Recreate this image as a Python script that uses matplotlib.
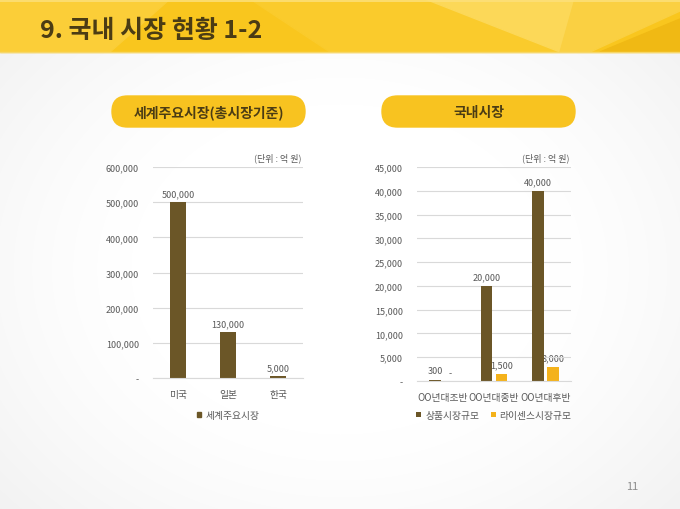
import matplotlib.pyplot as plt
import numpy as np
from matplotlib.patches import FancyBboxPatch, Rectangle, Polygon

plt.rcParams['font.family'] = ['Noto Sans CJK KR', 'DejaVu Sans']

# data
world_cats = ['미국', '일본', '한국']
world_vals = [500000, 130000, 5000]
world_labels = ['500,000', '130,000', '5,000']

dom_cats = ['OO년대조반', 'OO년대중반', 'OO년대후반']
goods_vals = [300, 20000, 40000]
goods_labels = ['300', '20,000', '40,000']
license_vals = [0, 1500, 3000]
license_labels = ['-', '1,500', '3,000']

world_ticks = [0, 100000, 200000, 300000, 400000, 500000, 600000]
dom_ticks = list(range(0, 45001, 5000))

BROWN = '#6B5627'
ORANGE = '#F4B21B'
GRID = '#D9D9D9'
TXT = '#595959'


def fmt(v):
    return '-' if v == 0 else f'{v:,}'


fig = plt.figure(figsize=(6.8, 5.1), dpi=100)

# background (pixel coords)
bg = fig.add_axes([0, 0, 1, 1])
bg.set_xlim(0, 680)
bg.set_ylim(510, 0)
bg.axis('off')
yy, xx = np.mgrid[0:510, 0:680]
r = np.sqrt(((xx - 340) / 380.0) ** 2 + ((yy - 270) / 300.0) ** 2)
shade = 1 - 0.09 * np.clip(r - 0.55, 0, 1) ** 1.3
bg.imshow(np.dstack([shade] * 3), extent=[0, 680, 510, 0], zorder=0)

# header band with facets
bg.add_patch(Rectangle((0, 0), 680, 53, color='#F9C61E', zorder=1))
bg.add_patch(Polygon([(0, 0), (170, 0), (110, 53), (0, 53)], color='#FBCE38', zorder=1))
bg.add_patch(Polygon([(250, 0), (470, 0), (560, 53), (330, 53)], color='#FACB2C', zorder=1))
bg.add_patch(Polygon([(425, 0), (575, 0), (560, 53)], color='#FCD858', zorder=1))
bg.add_patch(Polygon([(575, 0), (680, 0), (680, 12), (590, 53), (560, 53)], color='#FAD042', zorder=1))
bg.add_patch(Polygon([(600, 53), (680, 20), (680, 53)], color='#F0B914', zorder=1))
bg.plot([0, 680], [1.5, 1.5], color='#FCE07A', lw=1.2, zorder=2)
bg.plot([0, 680], [53, 53], color='#F6D76A', lw=1, zorder=2)
bg.text(40, 38, '9. 국내 시장 현황 1-2', fontsize=18, fontweight='bold',
        color='#4B3C14', va='baseline', ha='left', zorder=3)

# pills
for x0, label in [(112, '세계주요시장(총시장기준)'), (382, '국내시장')]:
    bg.add_patch(FancyBboxPatch((x0, 97), 193, 31,
                                boxstyle='round,pad=0,rounding_size=15.5',
                                color='#F8C320', zorder=2))
    bg.text(x0 + 96.5, 113, label, fontsize=10, fontweight='bold',
            color='#4B3C14', ha='center', va='center', zorder=3)

# unit labels
bg.text(301, 158, '(단위 : 억 원)', fontsize=6.5, color=TXT, ha='right', va='center')
bg.text(569, 158, '(단위 : 억 원)', fontsize=6.5, color=TXT, ha='right', va='center')
bg.text(632, 487, '11', fontsize=8, color='#8C8C8C', ha='center', va='center')


def style(ax, ticks):
    ax.set_facecolor('none')
    ax.set_yticks(ticks)
    ax.set_yticklabels([fmt(t) for t in ticks])
    ax.grid(axis='y', color=GRID, lw=0.8, zorder=0)
    for s in ['top', 'right', 'left']:
        ax.spines[s].set_visible(False)
    ax.spines['bottom'].set_color(GRID)
    ax.tick_params(axis='both', length=0, labelsize=6.5, labelcolor=TXT)
    ax.tick_params(axis='y', pad=10)
    ax.tick_params(axis='x', pad=8, labelsize=7)


# left chart
ax1 = fig.add_axes([153 / 680, 1 - 379 / 510, 150 / 680, 211 / 510])
x1 = np.arange(len(world_cats))
ax1.bar(x1, world_vals, width=0.31, color=BROWN, zorder=2)
ax1.set_xlim(-0.5, 2.5)
ax1.set_ylim(0, 600000)
style(ax1, world_ticks)
ax1.set_xticks(x1)
ax1.set_xticklabels(world_cats)
for xi, v, s in zip(x1, world_vals, world_labels):
    ax1.text(xi, v + 12000, s, ha='center', va='bottom', fontsize=6.5, color=TXT, zorder=1)

# right chart
ax2 = fig.add_axes([417 / 680, 1 - 382 / 510, 154 / 680, 214 / 510])
x2 = np.arange(len(dom_cats))
w = 0.224
off = 0.146
ax2.bar(x2 - off, goods_vals, width=w, color=BROWN, zorder=2, label='상품시장규모')
ax2.bar(x2 + off, license_vals, width=w, color=ORANGE, zorder=2, label='라이센스시장규모')
ax2.set_xlim(-0.5, 2.5)
ax2.set_ylim(0, 45000)
style(ax2, dom_ticks)
ax2.set_xticks(x2)
ax2.set_xticklabels(dom_cats)
for xi, v, s in zip(x2 - off, goods_vals, goods_labels):
    ax2.text(xi, v + 900, s, ha='center', va='bottom', fontsize=6.5, color=TXT, zorder=1)
for xi, v, s in zip(x2 + off, license_vals, license_labels):
    ax2.text(xi, v + 900, s, ha='center', va='bottom', fontsize=6.5, color=TXT, zorder=1)

# legends
h1 = [Rectangle((0, 0), 1, 1, color=BROWN)]
fig.legend(h1, ['세계주요시장'], loc='center', bbox_to_anchor=(228 / 680, 1 - 416 / 510),
           frameon=False, fontsize=7, handlelength=0.5, handleheight=0.5,
           handletextpad=0.4, labelcolor=TXT)
h2, l2 = ax2.get_legend_handles_labels()
fig.legend(h2, l2, loc='center', bbox_to_anchor=(494 / 680, 1 - 416 / 510), ncol=2,
           frameon=False, fontsize=7, handlelength=0.5, handleheight=0.5,
           handletextpad=0.4, columnspacing=1.2, labelcolor=TXT)

fig.savefig('out.png', dpi=100)
